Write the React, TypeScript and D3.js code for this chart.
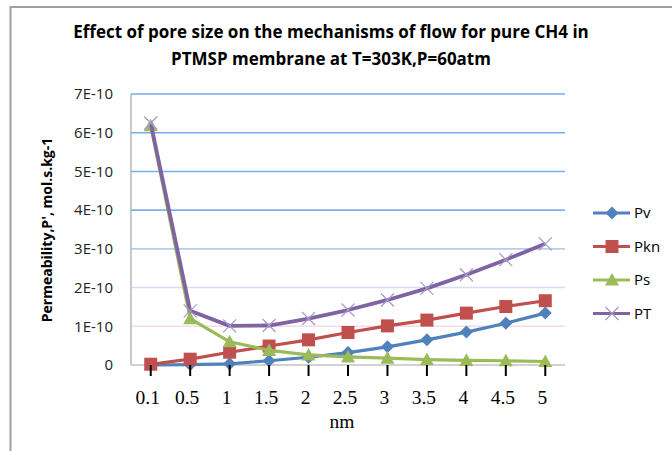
import React from "react";
import * as d3 from "d3";

// pore size categories (nm)
const categories = ["0.1", "0.5", "1", "1.5", "2", "2.5", "3", "3.5", "4", "4.5", "5"];

// permeability values (mol.s.kg-1)
const pv = [0.0, 0.01e-10, 0.03e-10, 0.11e-10, 0.2e-10, 0.32e-10, 0.47e-10, 0.65e-10, 0.85e-10, 1.08e-10, 1.34e-10];
const pkn = [0.02e-10, 0.15e-10, 0.33e-10, 0.49e-10, 0.65e-10, 0.84e-10, 1.01e-10, 1.16e-10, 1.34e-10, 1.51e-10, 1.66e-10];
const ps = [6.18e-10, 1.2e-10, 0.6e-10, 0.38e-10, 0.26e-10, 0.21e-10, 0.18e-10, 0.14e-10, 0.12e-10, 0.11e-10, 0.09e-10];
const pt = [6.25e-10, 1.4e-10, 1.01e-10, 1.02e-10, 1.2e-10, 1.42e-10, 1.68e-10, 1.98e-10, 2.33e-10, 2.72e-10, 3.13e-10];

const yTicks = [0, 1e-10, 2e-10, 3e-10, 4e-10, 5e-10, 6e-10, 7e-10];
const yTickLabels = ["0", "1E-10", "2E-10", "3E-10", "4E-10", "5E-10", "6E-10", "7E-10"];

const titleLines = [
  "Effect of pore size on the mechanisms of flow for pure CH4 in",
  "PTMSP membrane at T=303K,P=60atm",
];

type Marker = "diamond" | "square" | "triangle" | "cross";
const series: { name: string; values: number[]; color: string; marker: Marker }[] = [
  { name: "Pv", values: pv, color: "#4F81BD", marker: "diamond" },
  { name: "Pkn", values: pkn, color: "#C0504D", marker: "square" },
  { name: "Ps", values: ps, color: "#9BBB59", marker: "triangle" },
  { name: "PT", values: pt, color: "#8064A2", marker: "cross" },
];

// gridlines fade from blue at the top to pink near the baseline, as in the scan
const gridColors = ["none", "#f6d9ea", "#d8dbf3", "#b6cdef", "#7fb0ea", "#7aaeea", "#76abea", "#76abea"];

const W = 672;
const H = 451;
const plot = { left: 131, right: 565, top: 94, bottom: 365 };

const SANS = "'Open Sans', 'Noto Sans', sans-serif";
const SERIF = "'Liberation Serif', 'DejaVu Serif', serif";

function MarkerShape({ kind, x, y, color }: { kind: Marker; x: number; y: number; color: string }) {
  if (kind === "diamond") {
    const r = 6.5;
    return <path d={`M${x},${y - r}L${x + r},${y}L${x},${y + r}L${x - r},${y}Z`} fill={color} />;
  }
  if (kind === "square") {
    const s = 13;
    return <rect x={x - s / 2} y={y - s / 2} width={s} height={s} fill={color} />;
  }
  if (kind === "triangle") {
    const r = 7;
    return <path d={`M${x},${y - r}L${x + r},${y + r * 0.8}L${x - r},${y + r * 0.8}Z`} fill={color} />;
  }
  const r = 6.5;
  return (
    <path
      d={`M${x - r},${y - r}L${x + r},${y + r}M${x + r},${y - r}L${x - r},${y + r}`}
      stroke="#a897cc"
      strokeWidth={1.2}
      fill="none"
    />
  );
}

export default function App() {
  const x = d3.scalePoint<string>().domain(categories).range([plot.left, plot.right]).padding(0.5);
  const y = d3.scaleLinear().domain([0, 7e-10]).range([plot.bottom, plot.top]);

  const line = d3
    .line<number>()
    .x((_, i) => x(categories[i]) ?? 0)
    .y((v) => y(v));

  return (
    <svg
      width={W}
      height={H}
      style={{ position: "absolute", left: 0, top: 0, background: "#fff" }}
      fontFamily={SANS}
    >
      {/* frame */}
      <path d={`M10.5,${H}V7H${W}`} fill="none" stroke="#a0a0a0" strokeWidth={2} />

      {/* title */}
      {titleLines.map((t, i) => (
        <text key={i} x={331} y={38 + i * 27} textAnchor="middle" fontSize={17} fontWeight="bold" fill="#000">
          {t}
        </text>
      ))}

      {/* gridlines */}
      {yTicks.map((t, i) =>
        gridColors[i] === "none" ? null : (
          <line key={t} x1={plot.left} x2={plot.right} y1={y(t)} y2={y(t)} stroke={gridColors[i]} strokeWidth={1.6} />
        )
      )}

      {/* axes */}
      <line x1={plot.left} x2={plot.left} y1={plot.top} y2={plot.bottom} stroke="#a6a6a6" strokeWidth={1.2} />
      <line x1={plot.left} x2={plot.right} y1={plot.bottom} y2={plot.bottom} stroke="#a6a6a6" strokeWidth={1.2} />

      {/* y tick labels */}
      {yTicks.map((t, i) => (
        <text key={t} x={113} y={y(t)} dy="0.35em" textAnchor="end" fontSize={15} fill="#222">
          {yTickLabels[i]}
        </text>
      ))}

      {/* y axis title */}
      <text
        transform={`translate(52,230) rotate(-90)`}
        textAnchor="middle"
        fontSize={14}
        fontWeight="bold"
        fill="#000"
      >
        Permeability,P', mol.s.kg-1
      </text>

      {/* series */}
      {series.map((s) => (
        <g key={s.name}>
          <path d={line(s.values) ?? ""} fill="none" stroke={s.color} strokeWidth={s.marker === "cross" ? 3.8 : 3.2} strokeLinejoin="round" />
          {s.values.map((v, i) => (
            <MarkerShape key={i} kind={s.marker} x={x(categories[i]) ?? 0} y={y(v)} color={s.color} />
          ))}
        </g>
      ))}

      {/* x ticks (hand-drawn style, black) and serif labels */}
      {categories.map((c) => (
        <g key={c}>
          <line x1={x(c)} x2={x(c)} y1={plot.bottom} y2={plot.bottom + 11} stroke="#000" strokeWidth={2} />
          <text x={(x(c) ?? 0) - 3} y={404} textAnchor="middle" fontSize={19.5} fontFamily={SERIF} fill="#000">
            {c}
          </text>
        </g>
      ))}
      <text x={342} y={428} textAnchor="middle" fontSize={19.5} fontFamily={SERIF} fill="#000">
        nm
      </text>

      {/* legend */}
      {series.map((s, i) => {
        const ly = 213 + i * 33.5;
        return (
          <g key={s.name}>
            <line x1={593} x2={630} y1={ly} y2={ly} stroke={s.color} strokeWidth={3.2} />
            <MarkerShape kind={s.marker} x={612} y={ly} color={s.color} />
            <text x={634} y={ly} dy="0.35em" fontSize={15} fill="#000">
              {s.name}
            </text>
          </g>
        );
      })}
    </svg>
  );
}
